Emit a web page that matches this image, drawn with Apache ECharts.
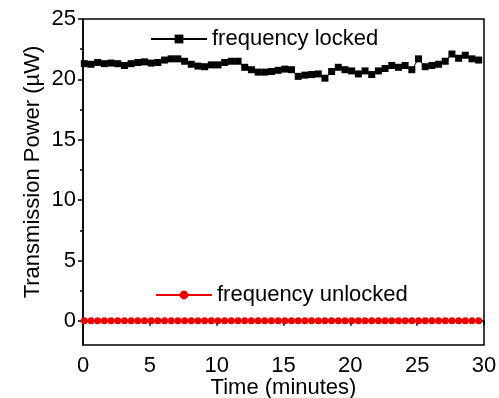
<!DOCTYPE html>
<html>
<head>
<meta charset="utf-8">
<script src="https://cdn.jsdelivr.net/npm/echarts@6/dist/echarts.min.js"></script>
<style>
  html, body { margin: 0; padding: 0; background: #fff; }
  #chart { width: 499px; height: 398px; }
</style>
</head>
<body>
<div id="chart"></div>
<script>
// time in minutes, one reading every half minute
const times = [0.1, 0.6, 1.1, 1.6, 2.1, 2.6, 3.1, 3.6, 4.1, 4.6,
  5.1, 5.6, 6.1, 6.6, 7.1, 7.6, 8.1, 8.6, 9.1, 9.6,
  10.1, 10.6, 11.1, 11.6, 12.1, 12.6, 13.1, 13.6, 14.1, 14.6,
  15.1, 15.6, 16.1, 16.6, 17.1, 17.6, 18.1, 18.6, 19.1, 19.6,
  20.1, 20.6, 21.1, 21.6, 22.1, 22.6, 23.1, 23.6, 24.1, 24.6,
  25.1, 25.6, 26.1, 26.6, 27.1, 27.6, 28.1, 28.6, 29.1, 29.6]

const locked = [21.3, 21.25, 21.4, 21.3, 21.35, 21.3, 21.15, 21.3, 21.4, 21.45,
  21.35, 21.4, 21.6, 21.7, 21.7, 21.5, 21.25, 21.1, 21.05, 21.2,
  21.2, 21.4, 21.5, 21.5, 21.0, 20.8, 20.6, 20.6, 20.65, 20.75,
  20.85, 20.8, 20.25, 20.35, 20.4, 20.45, 20.1, 20.65, 21.0, 20.8,
  20.7, 20.45, 20.7, 20.4, 20.7, 20.9, 21.15, 21.0, 21.15, 20.8,
  21.7, 21.05, 21.15, 21.25, 21.5, 22.1, 21.75, 22.0, 21.7, 21.6]

const unlocked = [0, 0, 0, 0, 0, 0, 0, 0, 0, 0,
  0, 0, 0, 0, 0, 0, 0, 0, 0, 0,
  0, 0, 0, 0, 0, 0, 0, 0, 0, 0,
  0, 0, 0, 0, 0, 0, 0, 0, 0, 0,
  0, 0, 0, 0, 0, 0, 0, 0, 0, 0,
  0, 0, 0, 0, 0, 0, 0, 0, 0, 0]

const yMajor = [0, 5, 10, 15, 20, 25]
const yMinor = [2.5, 7.5, 12.5, 17.5, 22.5]

const font = "'Liberation Sans', Arial, sans-serif"
const chart = echarts.init(document.getElementById('chart'))

const pairs = (ys) => times.map((t, i) => [t, ys[i]])

const option = {
  animation: false,
  textStyle: { fontFamily: font },
  grid: {
    left: 83, right: 15, top: 19, bottom: 53,
    outerBoundsMode: 'none',
    show: true, borderColor: '#000', borderWidth: 1.5
  },
  legend: [
    {
      data: ['frequency locked'],
      left: 145, top: 23,
      itemWidth: 56, itemHeight: 11,
      textStyle: { fontSize: 22, color: '#000', fontFamily: font }
    },
    {
      data: ['frequency unlocked'],
      left: 150, top: 279,
      itemWidth: 56, itemHeight: 11,
      textStyle: { fontSize: 22, color: '#000', fontFamily: font }
    }
  ],
  xAxis: {
    type: 'value',
    min: 0, max: 30, interval: 5,
    name: 'Time (minutes)',
    nameLocation: 'middle',
    nameGap: 32,
    nameMoveOverlap: false,
    nameTextStyle: { fontSize: 22, color: '#000', fontFamily: font },
    axisLine: { lineStyle: { color: '#000', width: 1.5 } },
    axisTick: { length: 5, lineStyle: { color: '#000', width: 1.5 } },
    minorTick: { show: true, splitNumber: 2, length: 3, lineStyle: { color: '#000', width: 1.5 } },
    axisLabel: { fontSize: 22, color: '#000', margin: 10, fontFamily: font },
    splitLine: { show: false }
  },
  yAxis: [
    {
      type: 'value',
      min: -2, max: 25,
      name: 'Transmission Power (\u00b5W)',
      nameLocation: 'middle',
      nameGap: 39,
      nameMoveOverlap: false,
      nameTextStyle: { fontSize: 22, color: '#000', fontFamily: font, padding: [0, 0, 0, 20] },
      axisLine: { show: true, lineStyle: { color: '#000', width: 1.5 } },
      axisTick: { show: true, length: 5, customValues: yMajor, lineStyle: { color: '#000', width: 1.5 } },
      axisLabel: { fontSize: 22, color: '#000', margin: 7, customValues: yMajor, fontFamily: font },
      splitLine: { show: false }
    },
    {
      type: 'value',
      min: -2, max: 25,
      position: 'left',
      axisLine: { show: false },
      axisTick: { show: true, length: 3, customValues: yMinor, lineStyle: { color: '#000', width: 1.5 } },
      axisLabel: { show: false },
      splitLine: { show: false }
    }
  ],
  series: [
    {
      name: 'frequency locked',
      type: 'line',
      data: pairs(locked),
      symbol: 'rect',
      symbolSize: 7,
      itemStyle: { color: '#000' },
      lineStyle: { color: '#000', width: 1 }
    },
    {
      name: 'frequency unlocked',
      type: 'line',
      data: pairs(unlocked),
      symbol: 'circle',
      symbolSize: 7,
      itemStyle: { color: '#ee0000' },
      lineStyle: { color: '#ee0000', width: 1 }
    }
  ]
}

chart.setOption(option)
</script>
</body>
</html>
